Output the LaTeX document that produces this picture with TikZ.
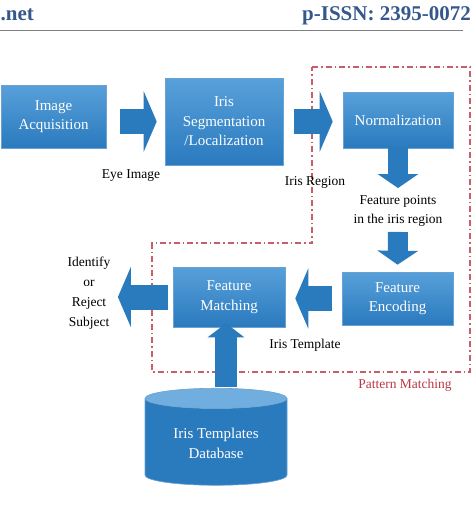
\documentclass[tikz,border=0pt]{standalone}
\usepackage{fontspec}
\setmainfont{Liberation Serif}
\definecolor{irisblue}{RGB}{42,122,190}
\definecolor{irislight}{RGB}{88,160,218}
\definecolor{irisdark}{RGB}{30,98,162}
\definecolor{pmred}{RGB}{185,55,70}
\definecolor{hdrblue}{RGB}{52,88,140}
\usetikzlibrary{arrows.meta, positioning, shapes.geometric, calc}
\tikzset{
	stage/.style={rectangle, top color=irislight, bottom color=irisblue, draw=irisblue!70!white, line width=0.6pt, align=center, text=white, font=\fontsize{15}{19.5}\selectfont, inner sep=1pt},
	store/.style={cylinder, shape border rotate=90, aspect=0.22, cylinder uses custom fill, cylinder body fill=irisblue, cylinder end fill=irislight!85!white, draw=irisblue!70!white, line width=0.6pt, align=center, text=white, font=\fontsize{15}{20}\selectfont, minimum width=142pt, minimum height=97pt},
	caption/.style={align=center, font=\fontsize{13.5}{19}\selectfont},
	hdr/.style={font=\fontsize{21}{24}\selectfont\bfseries, text=hdrblue, inner sep=0pt},
	hblock/.style={-{Triangle[length=13pt, width=60pt]}, line width=25pt, draw=irisblue},
	vblock/.style={-{Triangle[length=14pt, width=40pt]}, line width=20pt, draw=irisblue},
	pmline/.style={draw=pmred!80, line width=1.1pt, dash pattern=on 6pt off 3pt on 1.5pt off 3pt},
}
\begin{document}
\begin{tikzpicture}[x=1pt, y=-1pt]
		\useasboundingbox (0,0) rectangle (476,512);
		% header
		\node[hdr, anchor=base west] (site) at (0.5,20) {.net};
		\node[hdr, anchor=base east] (issn) at (471,20) {p-ISSN: 2395-0072};
		\draw[gray, line width=1pt] (0,30) -- (463,30);
		% pattern matching region
		\draw[pmline] (312,67) -- (470,67) -- (470,372) -- (152,372) -- (152,243) -- (312,243) -- cycle;
		\node[font=\fontsize{13.5}{15}\selectfont, text=pmred] (pm) at (405,385) {Pattern Matching};
		% stages
		\node[stage, minimum width=105pt, minimum height=63pt] (acq) at (53.5,116.5) {Image\\Acquisition};
		\node[stage, minimum width=118pt, minimum height=87pt] (seg) at (224,121.5) {Iris\\Segmentation\\/Localization};
		\node[stage, minimum width=110pt, minimum height=56pt] (norm) at (398,120) {Normalization};
		\node[stage, minimum width=111pt, minimum height=53pt] (enc) at (397.5,298.5) {Feature\\Encoding};
		\node[stage, minimum width=112pt, minimum height=60pt] (match) at (229,297) {Feature\\Matching};
		\node[store] (db) at (216,443.5) {Iris Templates\\Database};
		% captions
		\node[caption] (eye) at (131,176) {Eye Image};
		\node[caption] (region) at (315,182) {Iris Region};
		\node[caption] (points) at (398,211) {Feature points\\in the iris region};
		\node[caption] (tpl) at (305,345) {Iris Template};
		\node[caption, font=\fontsize{13.5}{20}\selectfont] (result) at (89,293) {Identify\\or\\Reject\\Subject};
		% block arrows
		\draw[hblock, shorten <=14pt, shorten >=8pt] (acq.east |- seg.west) -- (seg.west);
		\draw[hblock, shorten <=11pt, shorten >=10pt] (seg.east) -- (seg.east -| norm.west);
		\draw[vblock, shorten >=4pt] (norm.south) -- (points.north);
		\draw[vblock, shorten <=2pt, shorten >=7pt] (points.south) -- (enc.north);
		\draw[hblock, shorten <=10pt, shorten >=10pt] (enc.west) -- (enc.west -| match.east);
		\draw[hblock, shorten <=5pt, shorten >=4pt] (match.west) -- (match.west -| result.east);
		\draw[vblock, line width=22pt, -{Triangle[length=14pt, width=36pt]}, shorten <=1pt, shorten >=-4pt] (db.north -| 226,0) -- (match.south -| 226,0);
	\end{tikzpicture}
\end{document}
